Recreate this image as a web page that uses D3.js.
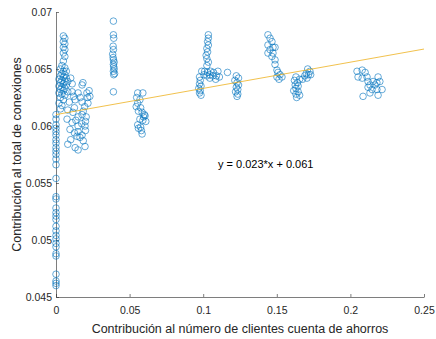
<!DOCTYPE html>
<html>
<head>
<meta charset="utf-8">
<script src="https://cdn.jsdelivr.net/npm/d3@7"></script>
<style>
    body { margin: 0; background: white; }
    text { font-family: "Liberation Sans", Arial, sans-serif; }
</style>
</head>
<body>
<div id="root"></div>
<script>
// points, grouped by the columns they form
const colZero = [
    [0, 0.0610], [0, 0.0606], [0, 0.0601], [0, 0.0598], [0, 0.0595], [0, 0.0592], [0, 0.0588],
    [0, 0.0585], [0, 0.0581], [0, 0.0578], [0, 0.0575], [0, 0.0571], [0, 0.0566], [0, 0.0554],
    [0, 0.0538], [0, 0.0536], [0, 0.0528], [0, 0.0524], [0, 0.0521], [0, 0.0518], [0, 0.0512],
    [0, 0.0508], [0, 0.0504], [0, 0.0501], [0, 0.0497], [0, 0.0494], [0, 0.0488], [0, 0.0486],
    [0, 0.0470], [0, 0.0464], [0, 0.0462], [0, 0.0460]
]
const colSmall = [
    [0.005, 0.0679], [0.006, 0.0677], [0.005, 0.0674], [0.006, 0.0672], [0.005, 0.0669], [0.006, 0.0667],
    [0.005, 0.0664], [0.006, 0.0661], [0.005, 0.0657], [0.004, 0.0653], [0.006, 0.0651], [0.003, 0.0650],
    [0.005, 0.0648], [0.007, 0.0648], [0.004, 0.0646], [0.006, 0.0645], [0.003, 0.0644], [0.005, 0.0643],
    [0.007, 0.0642], [0.002, 0.0641], [0.004, 0.0640], [0.006, 0.0639], [0.008, 0.0639], [0.003, 0.0638],
    [0.005, 0.0637], [0.007, 0.0636], [0.002, 0.0635], [0.004, 0.0634], [0.006, 0.0633], [0.003, 0.0632],
    [0.005, 0.0631], [0.008, 0.0630], [0.002, 0.0629], [0.004, 0.0628], [0.006, 0.0627], [0.003, 0.0625],
    [0.005, 0.0623], [0.002, 0.0620], [0.004, 0.0618], [0.003, 0.0615], [0.010, 0.0642], [0.011, 0.0637]
]
const spreadLow = [
    [0.0183, 0.0638], [0.0177, 0.0636], [0.0109, 0.0630], [0.015, 0.0629], [0.021, 0.0629], [0.013, 0.0623],
    [0.0177, 0.0621], [0.0217, 0.0620], [0.023, 0.0626], [0.008, 0.0614], [0.0115, 0.0612], [0.015, 0.0608],
    [0.0177, 0.0610], [0.0075, 0.0606], [0.0109, 0.0603], [0.015, 0.0600], [0.0197, 0.0600], [0.020, 0.0604],
    [0.015, 0.0595], [0.0177, 0.0592], [0.0143, 0.0591], [0.0163, 0.0590], [0.020, 0.0596], [0.008, 0.0584],
    [0.013, 0.0581], [0.015, 0.0579], [0.0197, 0.0582], [0.010, 0.0588], [0.012, 0.0626], [0.009, 0.0621],
    [0.0165, 0.0625], [0.0195, 0.0617], [0.0125, 0.0616], [0.0185, 0.0613], [0.0135, 0.0605], [0.0175, 0.0602],
    [0.0205, 0.0608], [0.0095, 0.0597], [0.0125, 0.0594], [0.0185, 0.0587], [0.0215, 0.0625], [0.0225, 0.0631]
]
const colFour = [
    [0.039, 0.0692], [0.039, 0.0680], [0.0392, 0.0677], [0.0388, 0.0670], [0.039, 0.0667], [0.0385, 0.0663],
    [0.0388, 0.0660], [0.039, 0.0658], [0.0395, 0.0656], [0.039, 0.0654], [0.0392, 0.0652], [0.0395, 0.0650],
    [0.039, 0.0648], [0.0398, 0.0646], [0.0392, 0.0645], [0.039, 0.0630]
]
const colSix = [
    [0.0555, 0.0629], [0.059, 0.0629], [0.0548, 0.0625], [0.057, 0.0623], [0.0555, 0.0620], [0.0545, 0.0617],
    [0.0575, 0.0616], [0.056, 0.0613], [0.0585, 0.0612], [0.060, 0.0610], [0.0595, 0.0608], [0.0605, 0.0609],
    [0.057, 0.0606], [0.059, 0.0605], [0.061, 0.0604], [0.0555, 0.0601], [0.0575, 0.0599], [0.056, 0.0598],
    [0.058, 0.0596], [0.0585, 0.0593]
]
const colTen = [
    [0.1035, 0.0680], [0.1035, 0.0677], [0.103, 0.0674], [0.1035, 0.0671], [0.1025, 0.0668], [0.103, 0.0665],
    [0.102, 0.0662], [0.1025, 0.0659], [0.1035, 0.0656], [0.1025, 0.0653],
    [0.099, 0.0648], [0.101, 0.0648], [0.103, 0.0647], [0.105, 0.0648], [0.107, 0.0647], [0.110, 0.0648],
    [0.1005, 0.0645], [0.1025, 0.0644], [0.1045, 0.0645], [0.1065, 0.0644], [0.109, 0.0644], [0.111, 0.0643],
    [0.1165, 0.0647], [0.1045, 0.0642], [0.1085, 0.0641],
    [0.0975, 0.0643], [0.098, 0.0640], [0.0975, 0.0637], [0.0985, 0.0635], [0.097, 0.0633], [0.098, 0.0631],
    [0.0975, 0.0629], [0.0985, 0.0627]
]
const colTwelve = [
    [0.1225, 0.0644], [0.124, 0.0642], [0.1215, 0.0640], [0.123, 0.0638], [0.124, 0.0636], [0.1225, 0.0634],
    [0.1235, 0.0632], [0.122, 0.0630], [0.1235, 0.0628], [0.123, 0.0626]
]
const colFifteen = [
    [0.144, 0.0680], [0.1454, 0.0677], [0.1467, 0.0674], [0.144, 0.0671], [0.1474, 0.0669], [0.1454, 0.0667],
    [0.1488, 0.0669], [0.144, 0.0664], [0.1474, 0.0664], [0.1467, 0.0661], [0.1488, 0.0658], [0.1488, 0.0654],
    [0.1501, 0.0649], [0.1508, 0.0647], [0.1522, 0.0645], [0.1501, 0.0643], [0.1535, 0.0643], [0.1515, 0.0641]
]
const colSeventeen = [
    [0.163, 0.0643], [0.1655, 0.0641], [0.162, 0.0640], [0.164, 0.0638], [0.1625, 0.0636], [0.1645, 0.0635],
    [0.163, 0.0633], [0.1615, 0.0631], [0.1645, 0.0630], [0.163, 0.0628], [0.1655, 0.0627], [0.1635, 0.0625],
    [0.171, 0.0650], [0.1725, 0.0648], [0.170, 0.0646], [0.1715, 0.0645], [0.173, 0.0645], [0.169, 0.0644],
    [0.1705, 0.0642], [0.1675, 0.0641]
]
const colTwentyOne = [
    [0.2045, 0.0648], [0.208, 0.0649], [0.210, 0.0647], [0.2052, 0.0643], [0.2113, 0.0643], [0.208, 0.0642],
    [0.2188, 0.0643], [0.212, 0.0639], [0.2154, 0.0639], [0.218, 0.0638], [0.220, 0.0639], [0.2133, 0.0636],
    [0.2167, 0.0636], [0.212, 0.0634], [0.2215, 0.0632], [0.218, 0.0632], [0.2133, 0.0629], [0.2086, 0.0626],
    [0.2188, 0.0627], [0.2147, 0.0632]
]

const xTicks = [0, 0.05, 0.1, 0.15, 0.2, 0.25]
const yTicks = [0.045, 0.05, 0.055, 0.06, 0.065, 0.07]
const fitSlope = 0.023, fitIntercept = 0.061
const fitLabel = "y = 0.023*x + 0.061"

function drawChart() {
    const w = 436, h = 339
    const left = 56, right = 424, top = 12, bottom = 297

    const points = [].concat(colZero, colSmall, spreadLow, colFour, colSix,
        colTen, colTwelve, colFifteen, colSeventeen, colTwentyOne)

//scales
    const x = d3.scaleLinear()
        .domain([0, 0.25])
        .range([left, right])

    const y = d3.scaleLinear()
        .domain([0.045, 0.07])
        .range([bottom, top])

    const svg = d3.select("#root").append("svg")
        .attr("width", w)
        .attr("height", h)

    const fmt = d => String(+d.toFixed(3))

    // axes, ticks pointing inward like matlab
    const xAxis = svg.append("g")
        .attr("transform", "translate(0," + bottom + ")")
        .call(d3.axisBottom(x).tickValues(xTicks).tickFormat(fmt).tickSizeInner(-3).tickSizeOuter(0).tickPadding(10))

    const yAxis = svg.append("g")
        .attr("transform", "translate(" + left + ",0)")
        .call(d3.axisLeft(y).tickValues(yTicks).tickFormat(fmt).tickSizeInner(-3).tickSizeOuter(0).tickPadding(4))

    svg.selectAll(".domain, .tick line")
        .attr("stroke", "#262626")
        .attr("stroke-width", 0.6)
    svg.selectAll(".tick text")
        .attr("fill", "#262626")
        .attr("font-size", 10.5)
        .style("font-family", "'Liberation Sans', Arial, sans-serif")

    // markers
    svg.selectAll("circle.pt")
        .data(points)
        .enter()
        .append("circle")
        .attr("class", "pt")
        .attr("cx", d => x(d[0]))
        .attr("cy", d => y(d[1]))
        .attr("r", 3.3)
        .attr("fill", "none")
        .attr("stroke", "#0072BD")
        .attr("stroke-width", 0.6)

    // fitted line
    svg.append("line")
        .attr("x1", x(0))
        .attr("y1", y(fitIntercept))
        .attr("x2", x(0.25))
        .attr("y2", y(fitIntercept + fitSlope * 0.25))
        .attr("stroke", "#EDB120")
        .attr("stroke-width", 0.8)

    svg.append("text")
        .attr("x", 218)
        .attr("y", 168)
        .attr("font-size", 11)
        .attr("fill", "black")
        .text(fitLabel)

    svg.append("text")
        .attr("x", (left + right) / 2)
        .attr("y", 333)
        .attr("text-anchor", "middle")
        .attr("font-size", 12.5)
        .attr("fill", "#262626")
        .text("Contribución al número de clientes cuenta de ahorros")

    svg.append("text")
        .attr("transform", "translate(21," + (top + bottom) / 2 + ") rotate(-90)")
        .attr("text-anchor", "middle")
        .attr("font-size", 12.5)
        .attr("fill", "#262626")
        .text("Contribución al total de conexiones")
}

drawChart()
</script>
</body>
</html>
